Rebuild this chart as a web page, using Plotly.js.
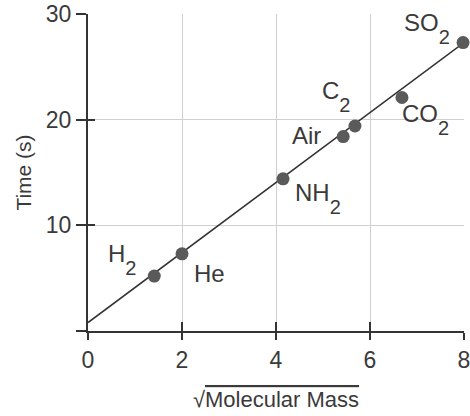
<!DOCTYPE html>
<html>
<head>
<meta charset="utf-8">
<script src="https://cdn.plot.ly/plotly-3.0.1.min.js"></script>
<style>html,body{margin:0;padding:0;background:#fff;overflow:hidden;}#chart{width:470px;height:416px;}</style>
</head>
<body>
<div id="chart"></div>
<script>
// Data
const labelBase = ["H", "He", "NH", "Air", "C", "CO", "SO"];
const labelSub  = ["2", "", "2", "", "2", "2", "2"];
const sqrtMass  = [1.41, 2.0, 4.15, 5.43, 5.68, 6.68, 7.98];
const times     = [5.2, 7.3, 14.4, 18.4, 19.4, 22.1, 27.3];
const fitX = [0, 8];
const fitY = [0.8, 27.3];
const xTicks = [0, 2, 4, 6, 8];
const xTickText = ["0", "2", "4", "6", "8"];
const yTicks = [0, 10, 20, 30];
const yTickText = ["", "10", "20", "30"];

// label placement (styling only)
const anchorX = ["right", "left", "left", "right", "right", "left", "right"];
const shiftX  = [-16, 10, 10, -20, -3, -2, -11];
const shiftY  = [17, -20, -20, 1, 30, -22, 14];

const FONT = "Liberation Sans, Arial, sans-serif";
const TXT = "#3a3a3a";

const annotations = labelBase.map((b, i) => ({
  x: sqrtMass[i], y: times[i], xref: "x", yref: "y",
  text: b + (labelSub[i] ? '<span style="font-size:20px;baseline-shift:-13px">' + labelSub[i] + '</span>' : ""),
  showarrow: false, xanchor: anchorX[i], yanchor: "middle",
  xshift: shiftX[i], yshift: shiftY[i],
  font: {family: FONT, size: 24, color: TXT}
}));

const traces = [
  {x: fitX, y: fitY, mode: "lines", line: {color: "#333", width: 1.6}, hoverinfo: "skip", cliponaxis: false},
  {x: sqrtMass, y: times, mode: "markers", marker: {color: "#5a5a5a", size: 13}, cliponaxis: false, hoverinfo: "skip"},
  {x: fitX, y: fitY, xaxis: "x2", yaxis: "y2", mode: "markers", marker: {opacity: 0}, hoverinfo: "skip", showlegend: false}
];

const layout = {
  width: 470, height: 416,
  margin: {l: 88, r: 6, t: 14, b: 85},
  paper_bgcolor: "#fff", plot_bgcolor: "#fff",
  showlegend: false,
  font: {family: FONT, color: TXT},
  xaxis: {
    range: [0, 8], tickvals: xTicks, ticktext: xTickText,
    ticks: "outside", ticklen: 7, tickwidth: 2, tickcolor: "#333",
    showline: true, linecolor: "#333", linewidth: 2,
    showgrid: true, gridcolor: "#cfcfcf", gridwidth: 1, zeroline: false,
    ticklabeloverflow: "allow",
    tickfont: {size: 23, family: FONT, color: TXT},
    title: {text: '√<span style="text-decoration:overline">Molecular Mass</span>', font: {size: 22, family: FONT, color: TXT}, standoff: 20},
    fixedrange: true
  },
  yaxis: {
    range: [0, 30], tickvals: yTicks, ticktext: yTickText,
    ticks: "outside", ticklen: 10, tickwidth: 2, tickcolor: "#333",
    showline: true, linecolor: "#333", linewidth: 2,
    showgrid: true, gridcolor: "#cfcfcf", gridwidth: 1, zeroline: false,
    tickfont: {size: 23, family: FONT, color: TXT},
    title: {text: "Time (s)", font: {size: 21, family: FONT, color: TXT}, standoff: 8},
    fixedrange: true
  },
  xaxis2: {
    overlaying: "x", anchor: "y2", range: [0, 8], tickvals: xTicks.slice(1),
    ticks: "inside", ticklen: 9, tickwidth: 2, tickcolor: "#333",
    showticklabels: false, showgrid: false, showline: false, zeroline: false
  },
  yaxis2: {
    overlaying: "y", anchor: "x2", range: [0, 30], tickvals: yTicks.slice(1),
    ticks: "inside", ticklen: 7, tickwidth: 2, tickcolor: "#333",
    showticklabels: false, showgrid: false, showline: false, zeroline: false
  },
  annotations: annotations
};

Plotly.newPlot("chart", traces, layout, {displayModeBar: false, staticPlot: true});
</script>
</body>
</html>
